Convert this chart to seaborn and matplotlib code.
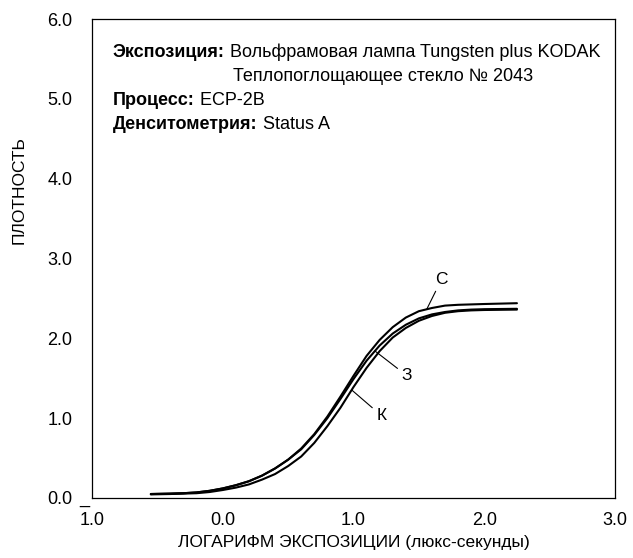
import numpy as np
import pandas as pd
import matplotlib
matplotlib.use("Agg")
import matplotlib.pyplot as plt
import seaborn as sns

# -------------------------------------------------------------------------------
#   data (ECP-2B characteristic curves)
# -------------------------------------------------------------------------------
log_exposure = [-0.55, -0.4, -0.3, -0.2, -0.1, 0.0, 0.1, 0.2, 0.3, 0.4, 0.5, 0.6,
                0.7, 0.8, 0.9, 1.0, 1.1, 1.2, 1.3, 1.4, 1.5, 1.6, 1.7, 1.8,
                1.9, 2.0, 2.25]
density_c = [0.05, 0.055, 0.06, 0.07, 0.09, 0.12, 0.16, 0.21, 0.28, 0.37, 0.48,
             0.62, 0.80, 1.02, 1.27, 1.53, 1.78, 1.98, 2.14, 2.26, 2.34, 2.38,
             2.41, 2.42, 2.425, 2.43, 2.44]
density_z = [0.05, 0.055, 0.06, 0.07, 0.09, 0.12, 0.16, 0.21, 0.28, 0.37, 0.48,
             0.61, 0.79, 1.00, 1.24, 1.49, 1.72, 1.91, 2.06, 2.17, 2.25, 2.30,
             2.33, 2.35, 2.36, 2.365, 2.37]
density_k = [0.045, 0.05, 0.055, 0.06, 0.075, 0.10, 0.13, 0.17, 0.23, 0.30, 0.40,
             0.52, 0.69, 0.90, 1.13, 1.39, 1.63, 1.84, 2.01, 2.13, 2.22, 2.28,
             2.32, 2.34, 2.35, 2.355, 2.36]
layer_names = ["С", "З", "К"]

# where each leader line touches its curve, and where its letter sits
callout_x = [1.56, 1.164, 0.986]
callout_text_x = [1.674, 1.41, 1.215]
callout_text_y = [2.74, 1.53, 1.03]

x_ticks = [-1, 0, 1, 2, 3]
x_tick_labels = ["", "0.0", "1.0", "2.0", "3.0"]
first_x_label = "_\n1.0"          # bar-one: log exposure of -1
y_ticks = [0, 1, 2, 3, 4, 5, 6]
y_tick_labels = ["0.0", "1.0", "2.0", "3.0", "4.0", "5.0", "6.0"]

note_bold = ["Экспозиция:", "Процесс:", "Денситометрия:"]
note_text = [" Вольфрамовая лампа Tungsten plus KODAK", " ECP-2B", " Status A"]
note_second_line = "Теплопоглощающее стекло № 2043"

# -------------------------------------------------------------------------------
#   long form table for seaborn
# -------------------------------------------------------------------------------
all_density = [density_c, density_z, density_k]
df = pd.DataFrame({
    "log_e": log_exposure * 3,
    "density": density_c + density_z + density_k,
    "layer": [n for n in layer_names for _ in log_exposure],
})

sns.set_style("white")
plt.rcParams["font.family"] = ["Liberation Sans", "DejaVu Sans"]
plt.rcParams["text.color"] = "black"
plt.rcParams["axes.labelcolor"] = "black"
plt.rcParams["xtick.color"] = "black"
plt.rcParams["ytick.color"] = "black"

fig = plt.figure(figsize=(6.33, 5.58), dpi=100)
ax = fig.add_axes([92 / 633, 1 - 498 / 558, 523 / 633, 479 / 558])

sns.lineplot(data=df, x="log_e", y="density", units="layer", estimator=None,
             color="black", linewidth=1.5, ax=ax, legend=False)

ax.set_xlim(-1, 3)
ax.set_ylim(0, 6)
ax.set_xticks(x_ticks)
ax.set_xticklabels(x_tick_labels)
ax.set_yticks(y_ticks)
ax.set_yticklabels(y_tick_labels)
tick_fs = 13
ax.tick_params(axis="x", direction="in", length=11.5, width=0.8, pad=10,
               labelsize=tick_fs)
ax.tick_params(axis="y", direction="in", length=9, width=0.8, pad=14,
               labelsize=tick_fs)
for s in ax.spines.values():
    s.set_color("black")
    s.set_linewidth(0.9)

# first x label with the bar over the one, bottom-aligned with "0.0"
ref_label = ax.get_xticklabels()[1]
ax.annotate(first_x_label, xy=(x_ticks[0], 0), xycoords=("data", ref_label),
            ha="center", va="bottom", multialignment="left", linespacing=1.35,
            fontsize=tick_fs, annotation_clip=False)

ax.set_xlabel("ЛОГАРИФМ ЭКСПОЗИЦИИ (люкс-секунды)", fontsize=12.5)
ax.set_ylabel("ПЛОТНОСТЬ", fontsize=12.5)
ax.xaxis.set_label_coords(0.5, -0.077)
ax.yaxis.set_label_coords(-0.125, 0.643)

# curve letters with leader lines
for name, cx, tx, ty, dens in zip(layer_names, callout_x, callout_text_x,
                                  callout_text_y, all_density):
    cy = np.interp(cx, log_exposure, dens)
    ax.annotate(name, xy=(cx, cy), xytext=(tx, ty), ha="center", va="center",
                fontsize=12.5,
                arrowprops=dict(arrowstyle="-", color="black", lw=0.8,
                                shrinkA=1, shrinkB=0))

# exposure / process / densitometry note
fs_note = 13
row_y = [0.912, 0.813, 0.762]
first_rest = None
for b, t, yy in zip(note_bold, note_text, row_y):
    tb = ax.text(0.04, yy, b, transform=ax.transAxes, fontsize=fs_note,
                 fontweight="bold", va="bottom")
    tn = ax.annotate(t, xy=(1, 0), xycoords=tb, va="bottom", ha="left",
                     fontsize=fs_note)
    if first_rest is None:
        first_rest = tn
ax.annotate(note_second_line, xy=(0, 0), xycoords=first_rest,
            xytext=(5.5, -17.5), textcoords="offset points", va="bottom",
            ha="left", fontsize=fs_note)

fig.savefig("out.png", dpi=100)
